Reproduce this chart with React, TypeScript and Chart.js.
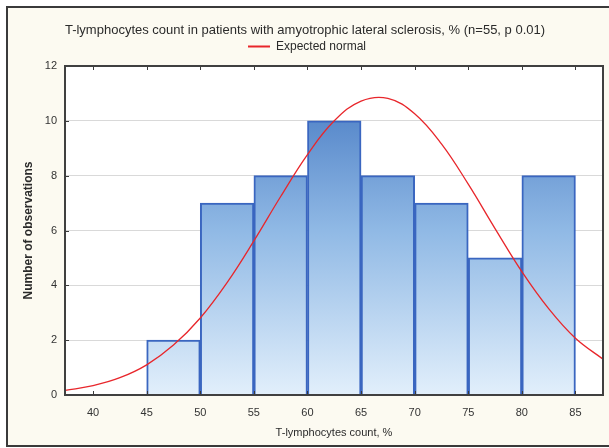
import React, { useEffect, useRef } from 'react';
import { Chart, registerables } from 'chart.js';

Chart.register(...registerables);

const TITLE = 'T-lymphocytes count in patients with amyotrophic lateral sclerosis, % (n=55, p 0.01)';
const LEGEND_LABEL = 'Expected normal';
const X_TITLE = 'T-lymphocytes count, %';
const Y_TITLE = 'Number of observations';

const BIN_CENTERS = [47.5, 52.5, 57.5, 62.5, 67.5, 72.5, 77.5, 82.5];
const BIN_COUNTS = [2, 7, 8, 10, 8, 7, 5, 8];

const CURVE_X = [37.4, 40, 42.5, 45, 47.5, 50, 52.5, 55, 57.5, 60, 62.5, 65, 67.5, 70, 72.5, 75, 77.5, 80, 82.5, 85, 87.6];
const CURVE_Y = [0.17, 0.34, 0.63, 1.1, 1.82, 2.81, 4.1, 5.62, 7.24, 8.77, 10.0, 10.72, 10.82, 10.26, 9.16, 7.69, 6.07, 4.5, 3.15, 2.07, 1.3];

const X_TICKS = [40, 45, 50, 55, 60, 65, 70, 75, 80, 85];
const Y_TICKS = [0, 2, 4, 6, 8, 10, 12];

const X_MIN = 37.38;
const X_MAX = 87.57;

const FONT = '"Liberation Sans", Arial, sans-serif';

const framePlugin = {
  id: 'framePlugin',
  beforeDraw(chart: any) {
    const { ctx, width, height, chartArea } = chart;
    ctx.save();
    ctx.fillStyle = '#ffffff';
    ctx.fillRect(0, 0, width, height);
    ctx.fillStyle = '#fcfaf1';
    ctx.fillRect(7, 7, width, 439);
    ctx.strokeStyle = '#3a3a3a';
    ctx.lineWidth = 2;
    ctx.strokeRect(7, 7, width + 10, 439);
    ctx.fillStyle = '#ffffff';
    ctx.fillRect(chartArea.left, chartArea.top, chartArea.right - chartArea.left, chartArea.bottom - chartArea.top);
    ctx.restore();
  },
  afterDatasetsDraw(chart: any) {
    const { ctx, chartArea, scales } = chart;
    ctx.save();
    ctx.strokeStyle = '#3a3a3a';
    ctx.lineWidth = 1;
    ctx.beginPath();
    for (const v of Y_TICKS) {
      const y = Math.round(scales.y.getPixelForValue(v)) + 0.5;
      ctx.moveTo(chartArea.left, y);
      ctx.lineTo(chartArea.left + 4, y);
    }
    for (const v of X_TICKS) {
      const x = Math.round(scales.x.getPixelForValue(v)) + 0.5;
      ctx.moveTo(x, chartArea.bottom);
      ctx.lineTo(x, chartArea.bottom - 4);
      ctx.moveTo(x, chartArea.top);
      ctx.lineTo(x, chartArea.top + 4);
    }
    ctx.stroke();
    ctx.lineWidth = 2;
    ctx.strokeStyle = '#404040';
    ctx.strokeRect(chartArea.left, chartArea.top, chartArea.right - chartArea.left, chartArea.bottom - chartArea.top);
    ctx.restore();
  },
  afterDraw(chart: any) {
    const { ctx } = chart;
    ctx.save();
    ctx.fillStyle = '#2b2b2b';
    ctx.font = `13px ${FONT}`;
    ctx.textAlign = 'center';
    ctx.textBaseline = 'middle';
    ctx.fillText(TITLE, 305, 30);
    ctx.font = `12px ${FONT}`;
    ctx.textAlign = 'left';
    const tw = ctx.measureText(LEGEND_LABEL).width;
    const total = 22 + 6 + tw;
    const x0 = 307 - total / 2;
    ctx.strokeStyle = '#e8262b';
    ctx.lineWidth = 2;
    ctx.beginPath();
    ctx.moveTo(x0, 46.5);
    ctx.lineTo(x0 + 22, 46.5);
    ctx.stroke();
    ctx.fillText(LEGEND_LABEL, x0 + 28, 47);
    ctx.restore();
  },
};

export default function App() {
  const ref = useRef<HTMLCanvasElement | null>(null);
  useEffect(() => {
    document.body.style.margin = '0';
    const canvas = ref.current;
    if (!canvas) return;
    const chart = new Chart(canvas, {
      type: 'bar',
      data: {
        datasets: [
          {
            type: 'line',
            label: LEGEND_LABEL,
            data: CURVE_X.map((x, i) => ({ x, y: CURVE_Y[i] })),
            borderColor: '#e8262b',
            borderWidth: 1.3,
            pointRadius: 0,
            tension: 0.4,
            fill: false,
            order: 0,
          } as any,
          {
            type: 'bar',
            label: 'Observations',
            data: BIN_CENTERS.map((x, i) => ({ x, y: BIN_COUNTS[i] })),
            barPercentage: 1,
            categoryPercentage: 1,
            borderColor: '#3a66c0',
            borderWidth: 2,
            order: 1,
            backgroundColor: (c: any) => {
              const area = c.chart.chartArea;
              if (!area) return '#7fa8dc';
              const g = c.chart.ctx.createLinearGradient(0, area.top, 0, area.bottom);
              g.addColorStop(0, '#3f73bf');
              g.addColorStop(0.5, '#90b9e5');
              g.addColorStop(1, '#e2effb');
              return g;
            },
          } as any,
        ],
      },
      options: {
        animation: false,
        responsive: false,
        maintainAspectRatio: false,
        layout: { padding: { left: 7, top: 66, right: 6, bottom: 2 } },
        plugins: {
          legend: { display: false },
          title: { display: false },
          tooltip: { enabled: false },
        },
        scales: {
          x: {
            type: 'linear',
            min: X_MIN,
            max: X_MAX,
            offset: false,
            afterBuildTicks: (s: any) => {
              s.ticks = X_TICKS.map((v) => ({ value: v }));
            },
            afterFit: (s: any) => {
              s.height = 51;
            },
            grid: { display: false, drawTicks: false, offset: false },
            border: { display: false },
            ticks: {
              padding: 11,
              color: '#333333',
              font: { family: FONT, size: 11 },
              maxRotation: 0,
              autoSkip: false,
            },
            title: {
              display: true,
              text: X_TITLE,
              color: '#2b2b2b',
              font: { family: FONT, size: 11 },
              padding: { top: 0, bottom: 6 },
            },
          },
          y: {
            type: 'linear',
            min: 0,
            max: 12,
            afterBuildTicks: (s: any) => {
              s.ticks = Y_TICKS.map((v) => ({ value: v }));
            },
            afterFit: (s: any) => {
              s.width = 58;
            },
            grid: { color: '#d9d9d9', lineWidth: 1, drawTicks: false },
            border: { display: false },
            ticks: {
              padding: 8,
              color: '#333333',
              font: { family: FONT, size: 11 },
            },
            title: {
              display: true,
              text: Y_TITLE,
              color: '#2b2b2b',
              font: { family: FONT, size: 12, weight: 'bold' },
              padding: { top: 14, bottom: 0 },
            },
          },
        },
      } as any,
      plugins: [framePlugin],
    });
    return () => chart.destroy();
  }, []);
  return (
    <div style={{ width: 609, height: 448, position: 'relative' }}>
      <canvas ref={ref} width={609} height={448} style={{ display: 'block' }} />
    </div>
  );
}
